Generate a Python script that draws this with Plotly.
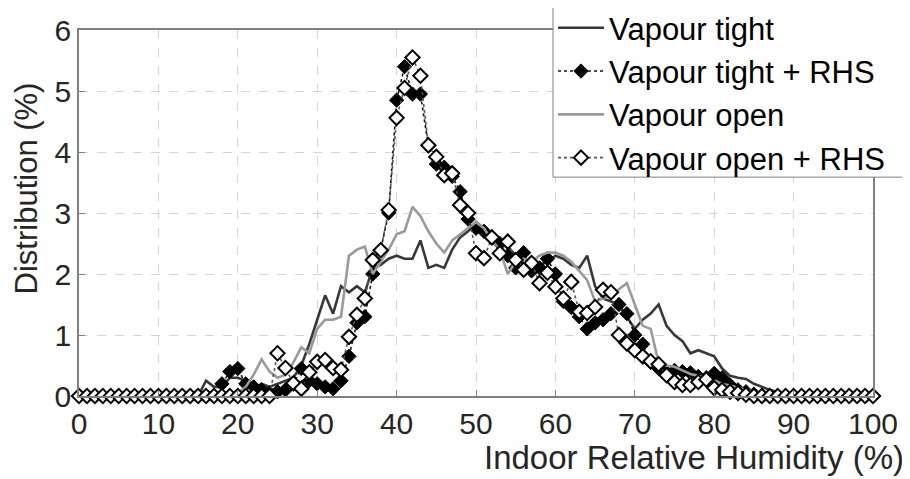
import plotly.graph_objects as go

rh = list(range(0, 101))

vapour_tight = [
    0, 0, 0, 0, 0, 0, 0, 0, 0, 0,
    0, 0, 0, 0, 0, 0, 0.25, 0.15, 0.15, 0.3,
    0.3, 0.25, 0.12, 0.2, 0.15, 0.2, 0.25, 0.3, 0.5, 0.85,
    1.25, 1.65, 1.35, 1.8, 1.7, 1.8, 1.7, 2.1, 2.15, 2.25,
    2.3, 2.25, 2.25, 2.55, 2.1, 2.15, 2.1, 2.4, 2.6, 2.7,
    2.85, 2.75, 2.65, 2.55, 2.45, 2.3, 2.15, 2.1, 2.15, 2.2,
    2.3, 2.25, 2.15, 2.1, 2.3, 1.8, 1.6, 1.55, 1.5, 1.3,
    1.1, 1.25, 1.35, 1.5, 1.15, 1.0, 0.9, 0.7, 0.75, 0.7,
    0.65, 0.45, 0.33, 0.3, 0.28, 0.2, 0.15, 0.1, 0.07, 0.04,
    0.02, 0, 0, 0, 0, 0, 0, 0, 0, 0, 0,
]

vapour_tight_rhs = [
    0, 0, 0, 0, 0, 0, 0, 0, 0, 0,
    0, 0, 0, 0, 0, 0, 0, 0, 0.2, 0.4,
    0.45, 0.2, 0.15, 0.1, 0.05, 0.07, 0.1, 0.2, 0.45, 0.25,
    0.2, 0.15, 0.12, 0.25, 0.65, 1.2, 1.3, 2.0, 2.4, 3.0,
    4.85, 5.4, 4.95, 4.95, 4.1, 3.8, 3.75, 3.6, 3.35, 2.9,
    2.75, 2.7, 2.6, 2.5, 2.3, 2.1, 2.35, 2.05, 2.1, 2.25,
    2.0, 1.55, 1.45, 1.3, 1.1, 1.2, 1.25, 1.35, 1.5, 1.35,
    1.0, 0.85, 0.55, 0.45, 0.38, 0.42, 0.4, 0.38, 0.32, 0.3,
    0.37, 0.3, 0.18, 0.1, 0.07, 0.03, 0, 0, 0, 0,
    0, 0, 0, 0, 0, 0, 0, 0, 0, 0, 0,
]

vapour_open = [
    0, 0, 0, 0, 0, 0, 0, 0, 0, 0,
    0, 0, 0, 0, 0, 0, 0, 0, 0, 0,
    0.05, 0.15, 0.35, 0.6, 0.4, 0.3, 0.35, 0.55, 0.8, 0.7,
    1.1, 1.25, 1.25, 1.3, 2.3, 2.4, 2.45, 2.0, 2.2, 2.4,
    2.65, 2.7, 3.1, 2.95, 2.7, 2.5, 2.35, 2.55, 2.65, 2.75,
    2.85, 2.75, 2.55, 2.4, 2.0, 2.2, 2.25, 2.2, 2.3, 2.35,
    2.35, 2.3, 2.2, 2.05, 1.9, 1.55, 1.6, 1.65, 1.75, 1.85,
    1.5, 1.15, 1.1, 0.55, 0.5, 0.48, 0.42, 0.36, 0.33, 0.3,
    0.25, 0.2, 0.17, 0.13, 0.1, 0.07, 0.05, 0.03, 0.02, 0,
    0, 0, 0, 0, 0, 0, 0, 0, 0, 0, 0,
]

vapour_open_rhs = [
    0, 0, 0, 0, 0, 0, 0, 0, 0, 0,
    0, 0, 0, 0, 0, 0, 0, 0, 0, 0,
    0, 0, 0, 0, 0, 0.7, 0.46, 0.21, 0.12, 0.39,
    0.56, 0.59, 0.46, 0.43, 0.97, 1.33, 1.6, 2.23, 2.39, 3.05,
    4.56, 5.05, 5.55, 5.25, 4.11, 3.92, 3.62, 3.65, 3.13, 3.0,
    2.34, 2.26, 2.6, 2.34, 2.53, 2.23, 2.07, 2.18, 1.85, 2.02,
    1.79, 1.6, 1.87, 1.38, 1.36, 1.46, 1.74, 1.7, 1.0, 0.86,
    0.75, 0.65, 0.57, 0.52, 0.34, 0.23, 0.18, 0.18, 0.23, 0.27,
    0.13, 0.1, 0.07, 0.05, 0.02, 0, 0, 0, 0, 0,
    0, 0, 0, 0, 0, 0, 0, 0, 0, 0, 0,
]

x_ticks = [0, 10, 20, 30, 40, 50, 60, 70, 80, 90, 100]
y_ticks = [0, 1, 2, 3, 4, 5, 6]

FONT = "Liberation Sans, Arial, Helvetica, sans-serif"

fig = go.Figure()
fig.add_trace(go.Scatter(
    x=rh, y=vapour_tight, name="Vapour tight", mode="lines",
    line=dict(color="#383838", width=2.6), cliponaxis=False,
))
fig.add_trace(go.Scatter(
    x=rh, y=vapour_tight_rhs, name="Vapour tight + RHS", mode="lines+markers",
    line=dict(color="#111111", width=1.6, dash="dot"),
    marker=dict(symbol="diamond", size=11, color="#000000",
                line=dict(color="#000000", width=1)),
    cliponaxis=False,
))
fig.add_trace(go.Scatter(
    x=rh, y=vapour_open, name="Vapour open", mode="lines",
    line=dict(color="#9a9a9a", width=2.6), cliponaxis=False,
))
fig.add_trace(go.Scatter(
    x=rh, y=vapour_open_rhs, name="Vapour open + RHS", mode="lines+markers",
    line=dict(color="#555555", width=1.6, dash="dot"),
    marker=dict(symbol="diamond", size=11, color="#ffffff",
                line=dict(color="#000000", width=2)),
    cliponaxis=False,
))

axis_common = dict(
    showline=True, mirror=True, linecolor="#808080", linewidth=1.5,
    ticks="inside", ticklen=6, tickcolor="#808080",
    showgrid=True, gridcolor="#d4d4d4", gridwidth=1, griddash="dash",
    zeroline=False,
    tickfont=dict(family=FONT, size=30, color="#262626"),
)

fig.update_xaxes(range=[0, 100], tickvals=x_ticks, ticktext=[str(v) for v in x_ticks],
                 **axis_common)
fig.update_yaxes(range=[0, 6], tickvals=y_ticks, ticktext=[str(v) for v in y_ticks],
                 **axis_common)

fig.add_annotation(
    text="Indoor Relative Humidity (%)", xref="paper", yref="paper",
    x=1.042, y=-0.167, xanchor="right", yanchor="middle", showarrow=False,
    font=dict(family=FONT, size=33, color="#262626"),
)
fig.add_annotation(
    text="Distribution (%)", xref="paper", yref="paper", textangle=-90,
    x=-0.066, y=0.566, xanchor="center", yanchor="middle", showarrow=False,
    font=dict(family=FONT, size=31, color="#262626"),
)

# legend frame (white box with grey border, drawn over the plot area)
fig.add_shape(
    type="rect", xref="paper", yref="paper",
    x0=0.597, x1=1.0378, y0=0.598, y1=1.071,
    line=dict(color="#808080", width=1), fillcolor="#ffffff", layer="above",
)

fig.update_layout(
    width=910, height=479,
    margin=dict(l=71, r=45, t=22, b=91, autoexpand=False),
    plot_bgcolor="#ffffff", paper_bgcolor="#ffffff",
    showlegend=True,
    legend=dict(
        x=0.597, y=1.079, xanchor="left", yanchor="top",
        bgcolor="rgba(0,0,0,0)", borderwidth=0,
        font=dict(family=FONT, size=31, color="#000000"),
        itemwidth=46, tracegroupgap=0,
    ),
)

fig.write_html("out.html")
